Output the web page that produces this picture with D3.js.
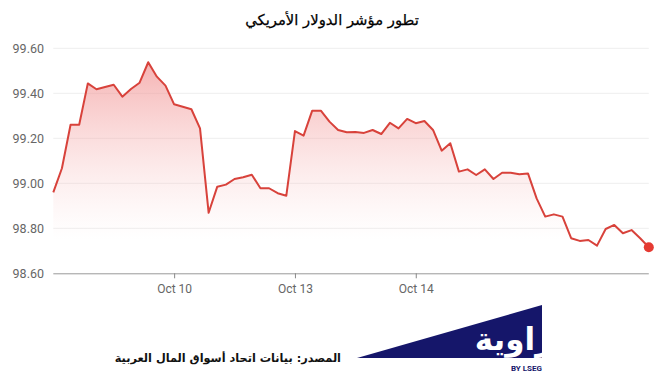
<!DOCTYPE html>
<html><head><meta charset="utf-8">
<script src="https://cdn.jsdelivr.net/npm/d3@7"></script>
<style>
html,body{margin:0;padding:0;background:#fff;}
svg{display:block;}
</style></head>
<body>
<svg id="c" width="665" height="379"></svg>
<script>
const title = "تطور مؤشر الدولار الأمريكي";
const sourceText = "المصدر: بيانات اتحاد أسواق المال العربية";
const values = [
  98.96, 99.067, 99.26, 99.26, 99.444, 99.418, 99.428, 99.438, 99.385, 99.419,
  99.447, 99.538, 99.474, 99.434, 99.351, 99.34, 99.329, 99.244, 98.869, 98.985,
  98.994, 99.019, 99.027, 99.038, 98.978, 98.978, 98.956, 98.945, 99.232, 99.212,
  99.323, 99.323, 99.274, 99.237, 99.227, 99.228, 99.224, 99.237, 99.219, 99.269,
  99.244, 99.286, 99.267, 99.277, 99.237, 99.145, 99.178, 99.052, 99.062, 99.037,
  99.062, 99.019, 99.047, 99.047, 99.04, 99.044, 98.933, 98.852, 98.862, 98.852,
  98.756, 98.744, 98.748, 98.723, 98.797, 98.815, 98.778, 98.792, 98.756, 98.716
];
const xTickIndex = [14, 28, 42];
const xTickLabels = ["Oct 10", "Oct 13", "Oct 14"];
const yTicks = [98.6, 98.8, 99.0, 99.2, 99.4, 99.6];

const svg = d3.select("#c");
const L = 53.3, R = 648.8, T = 48.3, B = 273.3;
const x = d3.scaleLinear().domain([0, values.length - 1]).range([L, R]);
const y = d3.scaleLinear().domain([98.6, 99.6]).range([B, T]);

const defs = svg.append("defs");
const grad = defs.append("linearGradient").attr("id", "g")
  .attr("gradientUnits", "userSpaceOnUse")
  .attr("x1", 0).attr("x2", 0).attr("y1", y(d3.max(values))).attr("y2", y(98.75));
grad.append("stop").attr("offset", 0).attr("stop-color", "#f08a8a").attr("stop-opacity", 0.65);
grad.append("stop").attr("offset", 1).attr("stop-color", "#f8c8c8").attr("stop-opacity", 0.0);

// gridlines
svg.append("g").selectAll("line").data(yTicks.filter(v => v > 98.6)).join("line")
  .attr("x1", L).attr("x2", R).attr("y1", d => y(d)).attr("y2", d => y(d))
  .attr("stroke", "#eeeeee").attr("stroke-width", 1);

// y labels
svg.append("g").selectAll("text").data(yTicks).join("text")
  .attr("x", 44).attr("y", d => y(d)).attr("dy", "0.35em")
  .attr("text-anchor", "end")
  .attr("font-family", "Roboto, sans-serif").attr("font-size", 12.5).attr("fill", "#666")
  .text(d => d.toFixed(2));

// area
const area = d3.area().x((d, i) => x(i)).y0(y(98.6)).y1(d => y(d));
svg.append("path").datum(values).attr("d", area).attr("fill", "url(#g)");

// baseline axis
const xAxis = d3.axisBottom(x).tickValues(xTickIndex)
  .tickFormat((d, i) => xTickLabels[i]).tickSize(5).tickSizeOuter(0).tickPadding(6);
const ga = svg.append("g").attr("transform", `translate(0,${B})`).call(xAxis);
ga.select(".domain").attr("stroke", "#999").attr("d", `M${L},0.5H${R}`);
ga.selectAll(".tick line").attr("stroke", "#888");
ga.selectAll(".tick text").attr("font-family", "Roboto, sans-serif").attr("font-size", 12).attr("fill", "#666");

// line
const line = d3.line().x((d, i) => x(i)).y(d => y(d));
svg.append("path").datum(values).attr("d", line)
  .attr("fill", "none").attr("stroke", "#d8423b").attr("stroke-width", 2).attr("stroke-linejoin", "round");

// end dot
svg.append("circle").attr("cx", x(values.length - 1)).attr("cy", y(values[values.length - 1]))
  .attr("r", 5).attr("fill", "#e53a32");

// title
svg.append("text").attr("x", 332).attr("y", 25).attr("text-anchor", "middle")
  .attr("font-family", "'DejaVu Sans', sans-serif").attr("font-size", 14.8).attr("fill", "#000")
  .attr("stroke", "#000").attr("stroke-width", 0.25)
  .attr("direction", "rtl")
  .text(title);

// source
svg.append("text").attr("x", 341).attr("y", 362).attr("text-anchor", "start")
  .attr("direction", "rtl")
  .attr("font-family", "'DejaVu Sans', sans-serif").attr("font-size", 11.3).attr("font-weight", "bold").attr("fill", "#111")
  .text(sourceText);

// logo
const lg = svg.append("g");
defs.append("clipPath").attr("id", "tri").append("path").attr("d", "M357,358L542,305L542,358Z");
lg.append("path").attr("d", "M357,358L542,305L542,358Z").attr("fill", "#15166a");
lg.append("text").attr("x", 553).attr("y", 350).attr("text-anchor", "end")
  .attr("clip-path", "url(#tri)")
  .attr("font-family", "'DejaVu Sans', sans-serif").attr("font-size", 31).attr("font-weight", "bold").attr("fill", "#fff")
  .text("زاوية");
lg.append("text").attr("x", 542).attr("y", 371).attr("text-anchor", "end")
  .attr("font-family", "Roboto, sans-serif").attr("font-size", 8).attr("font-weight", "bold").attr("fill", "#15166a")
  .text("BY LSEG");
</script>
</body></html>
